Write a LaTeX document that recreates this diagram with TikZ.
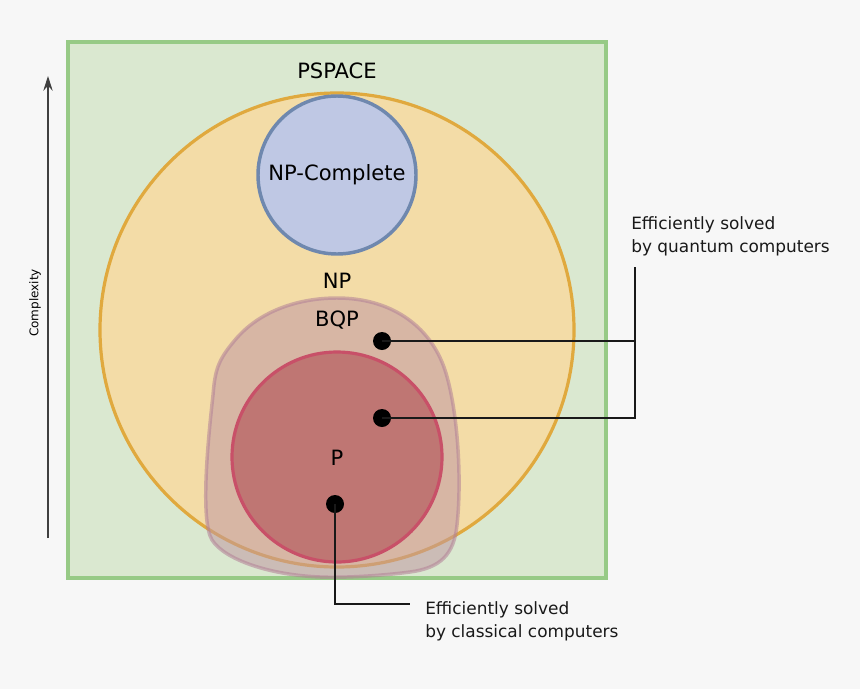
\documentclass[tikz,border=0pt]{standalone}
\usepackage{fontspec}
\setmainfont{DejaVu Sans}
\usetikzlibrary{arrows.meta}
\definecolor{bgc}{HTML}{F7F7F7}
\definecolor{psfill}{HTML}{DAE8D0}
\definecolor{psdraw}{HTML}{97CA86}
\definecolor{npfill}{HTML}{F3DCA7}
\definecolor{npdraw}{HTML}{E0A93E}
\definecolor{ncfill}{HTML}{BFC8E4}
\definecolor{ncdraw}{HTML}{6F88AE}
\definecolor{bqfill}{RGB}{192,152,162}
\definecolor{bqdraw}{RGB}{178,128,150}
\definecolor{pfill}{HTML}{BF7673}
\definecolor{pdraw}{HTML}{C85068}
\tikzset{
  lbl/.style={font=\fontsize{15.8pt}{19pt}\selectfont, text=black, inner sep=0pt},
  note/.style={font=\fontsize{12.7pt}{17.3pt}\selectfont, align=left, text=black!90, inner sep=0pt, anchor=west},
  dot/.style={circle, fill=black, minimum size=13.5pt, inner sep=0pt},
  lead/.style={line width=1.6pt, black!90},
}
\begin{document}
\begin{tikzpicture}[x=0.75pt,y=-0.75pt]
\fill[bgc] (0,0) rectangle (860,689);
\useasboundingbox (0,0) rectangle (860,689);
% PSPACE
\draw[fill=psfill, draw=psdraw, line width=2.4pt] (68,42) rectangle (606,578);
% NP
\draw[fill=npfill, draw=npdraw, line width=2.4pt] (337,330) circle [radius=237];
% NP-complete
\draw[fill=ncfill, draw=ncdraw, line width=2.6pt] (337,175) circle [radius=79];
% BQP blob
\draw[fill=bqfill, fill opacity=0.55, draw=bqdraw, draw opacity=0.55, line width=2.6pt]
  (337,298) .. controls (390,298) and (430,325) .. (445,370)
  .. controls (458,410) and (462,480) .. (457,525)
  .. controls (454,555) and (440,568) .. (410,572)
  .. controls (380,576) and (340,578) .. (320,577)
  .. controls (270,575) and (225,560) .. (212,540)
  .. controls (200,520) and (208,440) .. (213,395)
  .. controls (215,370) and (218,360) .. (235,340)
  .. controls (260,310) and (300,298) .. (337,298) -- cycle;
% P
\draw[fill=pfill, draw=pdraw, line width=2.4pt] (337,457) circle [radius=105];
% labels
\node[lbl] (ps) at (337,71) {PSPACE};
\node[lbl] (nc) at (337,175) {NP-Complete};
\node[lbl] (np) at (337,281) {NP};
\node[lbl] (bq) at (337,320) {BQP};
\node[lbl] (pl) at (337,458) {P};
% dots
\node[dot] (d1) at (382,341) {};
\node[dot] (d2) at (382,418) {};
\node[dot] (d3) at (335,504) {};
% notes
\node[note] (q) at (631,236) {Efficiently solved\\by quantum computers};
\node[note] (c) at (425,621) {Efficiently solved\\by classical computers};
\coordinate (qj) at (635,341);
\coordinate (qb) at (635,418);
\coordinate (qt) at (635,267);
\coordinate (cj) at (335,604);
\coordinate (ce) at (410,604);
\draw[lead] (d1.center) -- (qj);
\draw[lead] (d2.center) -- (qb) -- (qt);
\draw[lead] (d3.center) -- (cj) -- (ce);
% complexity axis
\coordinate (a0) at (48,538);
\coordinate (a1) at (48,76);
\draw[black!75, line width=1pt, -{Stealth[length=11pt,width=7pt]}] (a0) -- (a1);
\node[rotate=90, font=\fontsize{9pt}{10pt}\selectfont, inner sep=0pt] (cx) at (35,303) {Complexity};
\end{tikzpicture}
\end{document}
